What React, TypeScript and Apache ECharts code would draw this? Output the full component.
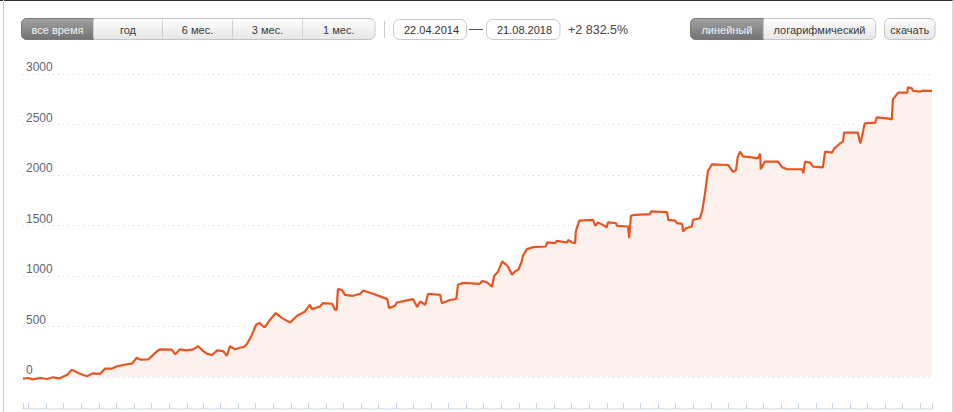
import React, { useEffect, useRef } from "react";
import * as echarts from "echarts";

// ---- data ----
const startDate = "2014-04-22";
const endDate = "2018-08-21";
const totalReturnLabel = "+2 832.5%";
const periodButtons = ["все время", "год", "6 мес.", "3 мес.", "1 мес."];
const scaleButtons = ["линейный", "логарифмический"];
const downloadLabel = "скачать";
const fromLabel = "22.04.2014";
const toLabel = "21.08.2018";
const yTickValues = [0, 500, 1000, 1500, 2000, 2500, 3000];

// days since 22.04.2014
const dayOffsets = [
  0, 9, 17, 30, 42, 52, 64, 77, 85, 96, 111, 122, 134, 143, 155, 164, 174, 190, 198, 204,
  218, 225, 233, 238, 259, 265, 273, 285, 296, 305, 312, 320, 329, 338, 348, 355, 360, 369,
  376, 385, 390, 397, 406, 412, 418, 421, 430, 440, 451, 465, 477, 491, 499, 503, 517, 522,
  538, 543, 546, 548, 555, 560, 574, 587, 592, 609, 625, 634, 637, 647, 651, 668, 679, 686,
  691, 700, 705, 726, 729, 743, 754, 757, 766, 795, 799, 808, 816, 820, 827, 834, 839, 844,
  851, 856, 862, 868, 870, 877, 888, 910, 912, 926, 929, 947, 949, 955, 961, 962, 968, 992,
  996, 1001, 1009, 1016, 1018, 1032, 1034, 1053, 1055, 1058, 1065, 1091, 1093, 1121, 1123,
  1135, 1138, 1147, 1149, 1154, 1164, 1166, 1178, 1182, 1187, 1190, 1192, 1199, 1227, 1230,
  1236, 1241, 1244, 1248, 1253, 1269, 1279, 1283, 1284, 1291, 1314, 1321, 1330, 1356, 1358,
  1361, 1370, 1375, 1392, 1396, 1408, 1412, 1417, 1422, 1427, 1429, 1453, 1457, 1460, 1465,
  1483, 1486, 1505, 1512, 1514, 1523, 1539, 1540, 1547, 1549, 1561, 1565, 1582,
];

// cumulative return, %
const returnPct = [
  -16, -10, -23, -10, -20, -3, -13, 23, 73, 40, 7, 36, 30, 83, 83, 106, 119, 135, 191, 172,
  175, 211, 254, 274, 271, 224, 274, 264, 274, 304, 264, 231, 218, 264, 257, 211, 304, 274,
  287, 300, 330, 400, 520, 534, 500, 494, 567, 633, 583, 540, 606, 649, 715, 672, 698, 732,
  725, 666, 666, 870, 864, 814, 804, 824, 857, 824, 791, 771, 682, 705, 738, 758, 771, 692,
  748, 715, 824, 814, 730, 762, 772, 913, 932, 923, 950, 936, 893, 1000, 1045, 1144, 1121, 1094,
  1012, 1045, 1062, 1144, 1200, 1266, 1286, 1292, 1332, 1325, 1348, 1332, 1358, 1332, 1325, 1440, 1549, 1556,
  1497, 1530, 1506, 1483, 1530, 1523, 1497, 1490, 1375, 1596, 1606, 1612, 1639, 1632, 1556,
  1549, 1523, 1516, 1440, 1473, 1490, 1556, 1572, 1645, 1820, 1950, 2040, 2105, 2099, 2076,
  2030, 2050, 2182, 2231, 2185, 2175, 2165, 2210, 2057, 2132, 2132, 2078, 2057, 2057, 2017,
  2132, 2122, 2083, 2076, 2231, 2221, 2264, 2287, 2313, 2330, 2419, 2419, 2313, 2379, 2511,
  2518, 2570, 2561, 2551, 2749, 2815, 2815, 2868, 2858, 2832, 2825, 2835, 2832.5,
];

const DAY = 86400000;
const FONT = "'Liberation Sans', Arial, sans-serif";

function toTime(s: string) {
  const [y, m, d] = s.split("-").map(Number);
  return new Date(y, m - 1, d).getTime();
}

function lightGrad() {
  return new echarts.graphic.LinearGradient(0, 0, 0, 1, [
    { offset: 0, color: "#fefefe" },
    { offset: 1, color: "#e6e6e6" },
  ]);
}
function darkGrad() {
  return new echarts.graphic.LinearGradient(0, 0, 0, 1, [
    { offset: 0, color: "#a2a2a2" },
    { offset: 1, color: "#727272" },
  ]);
}

function buttonGroup(x: number, y: number, widths: number[], labels: string[], selected: number) {
  const h = 21;
  const total = widths.reduce((a, b) => a + b, 0);
  const els: any[] = [];
  els.push({
    type: "rect",
    shape: { x, y, width: total, height: h, r: 5 },
    style: { fill: lightGrad(), stroke: "#c6c6c6", lineWidth: 1 },
  });
  let cx = x;
  widths.forEach((w, i) => {
    if (i === selected) {
      const r = i === 0 ? [5, 0, 0, 5] : i === widths.length - 1 ? [0, 5, 5, 0] : 0;
      els.push({
        type: "rect",
        shape: { x: cx, y, width: w, height: h, r },
        style: { fill: darkGrad(), stroke: "#7a7a7a", lineWidth: 1 },
      });
    }
    if (i > 0) {
      els.push({
        type: "line",
        shape: { x1: cx, y1: y + 1, x2: cx, y2: y + h - 1 },
        style: { stroke: "#d2d2d2", lineWidth: 1 },
      });
    }
    els.push({
      type: "text",
      x: cx + w / 2,
      y: y + h / 2 + 0.5,
      style: {
        text: labels[i],
        fill: i === selected ? "#f2f2f2" : "#3a3a3a",
        font: `11px ${FONT}`,
        align: "center",
        verticalAlign: "middle",
      },
    });
    cx += w;
  });
  return els;
}

function dateBox(x: number, w: number, label: string) {
  return [
    {
      type: "rect",
      shape: { x, y: 19.5, width: w, height: 20, r: 6 },
      style: { fill: "#ffffff", stroke: "#c8c8c8", lineWidth: 1 },
    },
    {
      type: "text",
      x: x + 10.5,
      y: 30,
      style: { text: label, fill: "#333333", font: `11px ${FONT}`, align: "left", verticalAlign: "middle" },
    },
  ];
}

export default function App() {
  const ref = useRef<HTMLDivElement>(null);
  useEffect(() => {
    document.body.style.margin = "0";
    const chart = echarts.init(ref.current!, null, { renderer: "svg" });
    const t0 = toTime(startDate);
    const data = dayOffsets.map((d, i) => [t0 + d * DAY, returnPct[i]]);

    const graphics: any[] = [
      { type: "line", shape: { x1: 0, y1: 0.5, x2: 954, y2: 0.5 }, style: { stroke: "#2a3036", lineWidth: 1 } },
      { type: "line", shape: { x1: 3.5, y1: 0, x2: 3.5, y2: 412 }, style: { stroke: "#cdcdcd", lineWidth: 1 } },
      { type: "line", shape: { x1: 953, y1: 0, x2: 953, y2: 412 }, style: { stroke: "#cdcdcd", lineWidth: 1.5 } },
      ...buttonGroup(21.5, 18.5, [72, 69, 70, 70, 72.5], periodButtons, 0),
      { type: "line", shape: { x1: 384.5, y1: 21, x2: 384.5, y2: 38 }, style: { stroke: "#cccccc", lineWidth: 1 } },
      ...dateBox(393.5, 73, fromLabel),
      { type: "line", shape: { x1: 469, y1: 29.5, x2: 483, y2: 29.5 }, style: { stroke: "#555555", lineWidth: 1 } },
      ...dateBox(486.5, 73.5, toLabel),
      {
        type: "text",
        x: 568,
        y: 30,
        style: { text: totalReturnLabel, fill: "#444444", font: `12.5px ${FONT}`, align: "left", verticalAlign: "middle" },
      },
      ...buttonGroup(690.5, 18.5, [72.8, 112.4], scaleButtons, 0),
      ...buttonGroup(884.5, 18.5, [50.5], [downloadLabel], -1),
    ];

    chart.setOption({
      animation: false,
      backgroundColor: "#ffffff",
      grid: { left: 23, right: 22, top: 74, bottom: 35, containLabel: false },
      xAxis: {
        type: "time",
        min: t0,
        max: toTime(endDate),
        offset: 32,
        splitNumber: 60,
        minInterval: 28 * DAY,
        maxInterval: 31 * DAY,
        axisLine: { show: true, onZero: false, lineStyle: { color: "#dde3ea", width: 1.5 } },
        axisTick: { show: true, inside: true, length: 6, lineStyle: { color: "#c3d4e6", width: 1 } },
        axisLabel: { show: false },
        splitLine: { show: false },
      },
      yAxis: {
        type: "value",
        min: yTickValues[0],
        max: yTickValues[yTickValues.length - 1],
        interval: yTickValues[1] - yTickValues[0],
        axisLine: { show: false },
        axisTick: { show: false },
        axisLabel: {
          inside: true,
          margin: 3,
          verticalAlign: "bottom",
          align: "left",
          color: "#5f6672",
          fontSize: 12,
          fontFamily: FONT,
          padding: [0, 0, 1, 0],
          formatter: (v: number) => String(v),
        },
        splitLine: { show: true, lineStyle: { color: "#d9d9d9", type: [1, 4], width: 1 } },
      },
      series: [
        {
          type: "line",
          data,
          symbol: "none",
          clip: false,
          lineStyle: { color: "#ea5420", width: 2.2 },
          areaStyle: { color: "#fdf1ee", opacity: 1 },
          z: 3,
        },
      ],
      graphic: graphics,
    });
    return () => chart.dispose();
  }, []);
  return <div ref={ref} style={{ width: 954, height: 412 }} />;
}
